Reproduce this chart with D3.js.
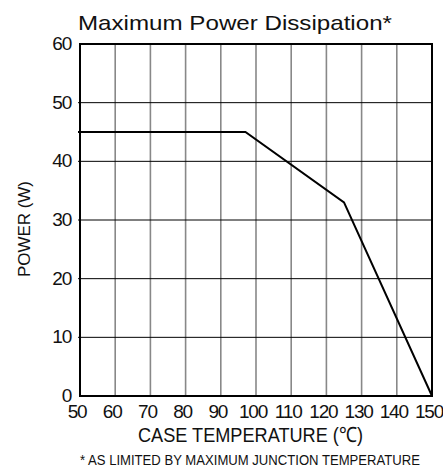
<!DOCTYPE html>
<html><head><meta charset="utf-8">
<script src="https://cdn.jsdelivr.net/npm/d3@7"></script>
<style>body{margin:0;background:#fff}svg{display:block}text{font-family:"Liberation Sans",Arial,sans-serif;fill:#111}</style>
</head><body><svg id="c" width="443" height="468"></svg>
<script>
const temps = [50, 97, 125, 150];
const power = [45, 45, 33, 0];
const xTicks = [50, 60, 70, 80, 90, 100, 110, 120, 130, 140, 150];
const yTicks = [0, 10, 20, 30, 40, 50, 60];
const title = "Maximum Power Dissipation*";
const xTitle = "CASE TEMPERATURE (\u2103)";
const yTitle = "POWER (W)";
const note = "* AS LIMITED BY MAXIMUM JUNCTION TEMPERATURE";

const svg = d3.select("#c");
const L = 80, R = 432, T = 44, B = 396;
const x = d3.scaleLinear().domain([50, 150]).range([L, R]);
const y = d3.scaleLinear().domain([0, 60]).range([B, T]);

// vertical grid
svg.append("g").selectAll("line").data(xTicks.slice(1, -1)).join("line")
  .attr("x1", d => x(d)).attr("x2", d => x(d)).attr("y1", T).attr("y2", B)
  .attr("stroke", "#888").attr("stroke-width", 1.6);
// horizontal grid
svg.append("g").selectAll("line").data(yTicks.slice(1, -1)).join("line")
  .attr("x1", L - 2).attr("x2", R).attr("y1", d => y(d)).attr("y2", d => y(d))
  .attr("stroke", "#000").attr("stroke-width", 1);
// frame
svg.append("rect").attr("x", L).attr("y", T).attr("width", R - L).attr("height", B - T)
  .attr("fill", "none").attr("stroke", "#000").attr("stroke-width", 2);

// curve
const pts = temps.map((t, i) => [t, power[i]]);
svg.append("path").datum(pts)
  .attr("d", d3.line().x(d => x(d[0])).y(d => y(d[1])))
  .attr("fill", "none").attr("stroke", "#000").attr("stroke-width", 2);
svg.append("line").attr("x1", L - 2).attr("x2", L).attr("y1", y(45)).attr("y2", y(45))
  .attr("stroke", "#000").attr("stroke-width", 2);

// tick labels
svg.append("g").selectAll("text").data(xTicks).join("text")
  .attr("x", d => x(d) - 3).attr("y", 418).attr("text-anchor", "middle")
  .attr("font-size", 19).attr("letter-spacing", -1.2).text(d => d);
svg.append("g").selectAll("text").data(yTicks).join("text")
  .attr("x", 71).attr("y", d => y(d) + 6).attr("text-anchor", "end")
  .attr("font-size", 19).attr("letter-spacing", -1.2).text(d => d);

// titles
svg.append("text").attr("x", 78).attr("y", 30).attr("font-size", 21)
  .attr("textLength", 314).attr("lengthAdjust", "spacingAndGlyphs").text(title);
svg.append("text").attr("x", 138).attr("y", 442).attr("font-size", 21)
  .attr("textLength", 225).attr("lengthAdjust", "spacingAndGlyphs").text(xTitle);
svg.append("text").attr("transform", "translate(30,277) rotate(-90)").attr("font-size", 17)
  .attr("textLength", 96).attr("lengthAdjust", "spacingAndGlyphs").text(yTitle);
svg.append("text").attr("x", 80).attr("y", 465).attr("font-size", 14)
  .attr("textLength", 340).attr("lengthAdjust", "spacingAndGlyphs").text(note);
</script></body></html>
